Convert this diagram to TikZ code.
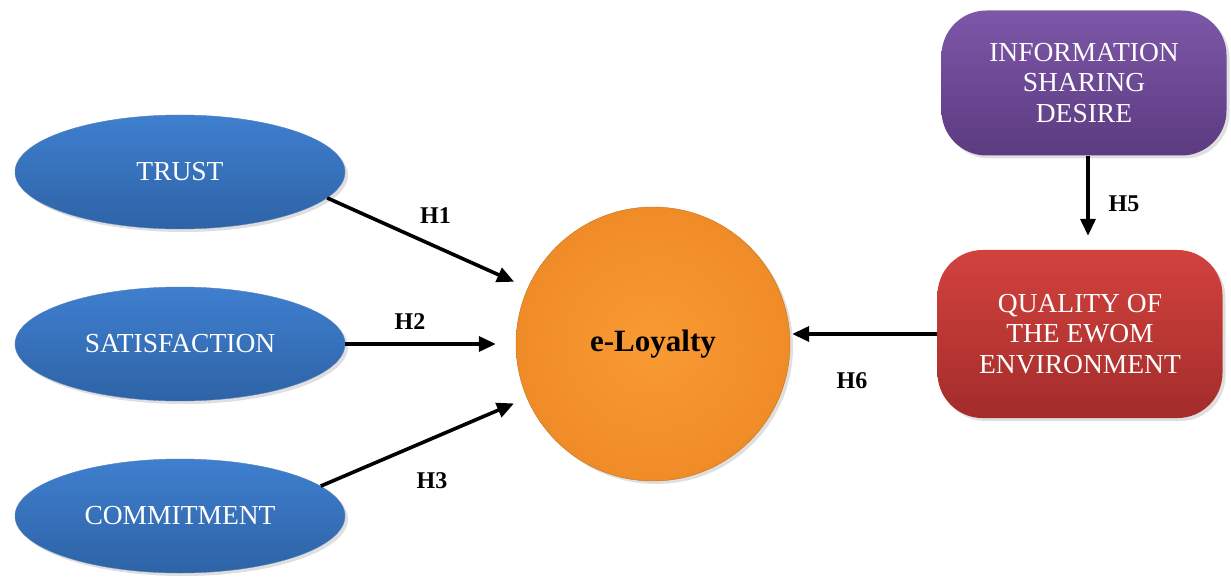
\documentclass[tikz,border=0pt]{standalone}
\usepackage{fontspec}
\setmainfont{Liberation Serif}
\usetikzlibrary{arrows.meta,shapes.geometric,shadows}

\definecolor{blueTop}{HTML}{3F7FCF}
\definecolor{blueBot}{HTML}{2E63A6}
\definecolor{orangeIn}{HTML}{F99A33}
\definecolor{orangeOut}{HTML}{F08C27}
\definecolor{purpleTop}{HTML}{7D57A8}
\definecolor{purpleBot}{HTML}{5C3B80}
\definecolor{redTop}{HTML}{D2423D}
\definecolor{redBot}{HTML}{A32C2B}

\begin{document}
\begin{tikzpicture} [x=1pt, y=1pt, node distance=172pt,
                    factor node/.style={ellipse,minimum width=330pt,minimum height=114pt,inner sep=0pt,
                      top color=blueTop,bottom color=blueBot,draw=blueBot!80,text=white,
                      font=\fontsize{27.5}{31}\selectfont,
                      drop shadow={shadow xshift=3pt,shadow yshift=-3pt,opacity=0.25}},
                    loyal node/.style={circle,minimum size=274pt,inner sep=0pt,
                      inner color=orangeIn,outer color=orangeOut,draw=orangeOut!80!black,
                      font=\fontsize{31}{36}\selectfont\bfseries,
                      drop shadow={shadow xshift=3pt,shadow yshift=-3pt,opacity=0.25}},
                    box node/.style={rectangle,rounded corners=45pt,minimum width=285pt,align=center,
                      text=white,font=\fontsize{27.5}{30.5}\selectfont,
                      drop shadow={shadow xshift=3pt,shadow yshift=-3pt,opacity=0.25}},
                    hyp/.style={line width=3.6pt,-{Triangle[length=17pt,width=15pt]}},
                    hyp label/.style={inner sep=0pt,font=\fontsize{24}{28}\selectfont\bfseries}]
    \useasboundingbox (0,0) rectangle (1231,579);

    \node[factor node] (trust) at (180,407) {TRUST};
    \node[factor node] (sat) [below of=trust] {SATISFACTION};
    \node[factor node] (comm) [below of=sat] {COMMITMENT};
    \node[loyal node] (loyal) [node distance=473pt, right of=sat] {e-Loyalty};
    \node[box node,top color=redTop,bottom color=redBot,minimum height=168pt] (qual) at (1080,245)
        {QUALITY OF\\THE EWOM\\ENVIRONMENT};
    \node[box node,top color=purpleTop,bottom color=purpleBot,minimum height=145pt] (info) at (1084,496)
        {INFORMATION\\SHARING\\DESIRE};

    \path[hyp]
    (trust.-10) edge[shorten >=15pt] node [hyp label, pos=0.54, yshift=31pt] {H1} (loyal)
    (sat.east) edge[shorten >=20pt] node [hyp label, pos=0.38, yshift=22pt] {H2} (loyal)
    (comm.12) edge[shorten >=14pt] node [hyp label, pos=0.54, yshift=-42pt] {H3} (loyal)
    ([xshift=4pt]info.south) edge[shorten >=14pt] node [hyp label, pos=0.51, xshift=36pt] {H5}
        ([xshift=4pt]info.south |- qual.north)
    (qual.west) edge[shorten >=2pt] node [hyp label, pos=0.58, yshift=-47pt] {H6}
        (qual.west -| loyal.east);
\end{tikzpicture}
\end{document}
